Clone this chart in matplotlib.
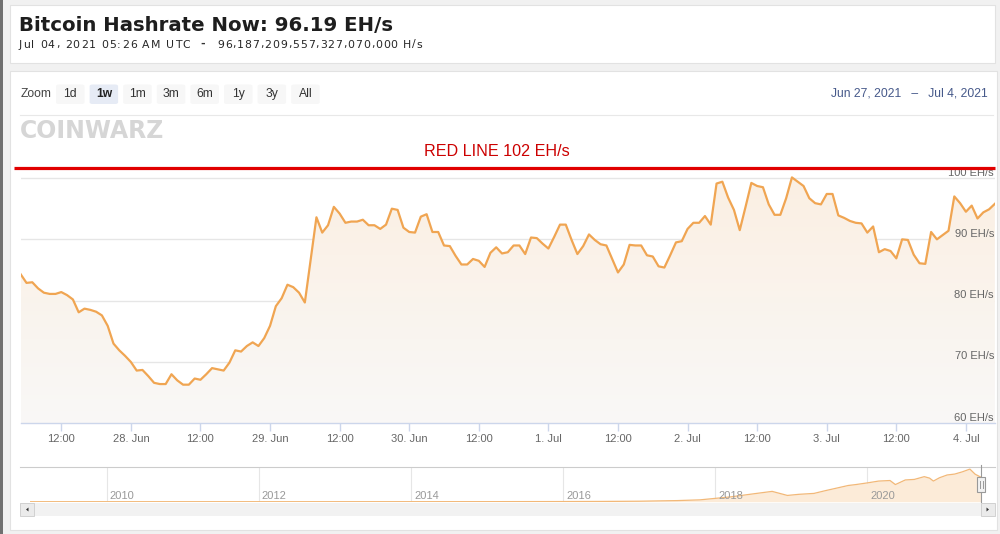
import numpy as np
import pandas as pd
import matplotlib
matplotlib.use("Agg")
import matplotlib.pyplot as plt
import matplotlib.dates as mdates
import matplotlib.transforms as mtransforms
from matplotlib.patches import Rectangle, FancyBboxPatch, Polygon
from matplotlib.font_manager import FontProperties, findfont
from matplotlib.ft2font import FT2Font

W, H = 1000, 534

# --- DATA ---
title = "Bitcoin Hashrate Now: 96.19 EH/s"
sub_left = "Jul 04, 2021 05:26 AM UTC"
sub_right = "96,187,209,557,327,070,000 H/s"
date_from, date_to = "Jun 27, 2021", "Jul 4, 2021"
zoom_buttons = ["1d", "1w", "1m", "3m", "6m", "1y", "3y", "All"]
selected_button = "1w"

# hourly hashrate (EH/s), Jun 27 05:00 -> Jul 4 05:00
start = "2021-06-27 05:00"
hashrate = [
    84.3, 82.9, 83.0, 82.0, 81.3, 81.1, 81.1, 81.4, 80.9, 80.2,
    78.1, 78.7, 78.5, 78.2, 77.6, 75.9, 73.0, 71.9, 71.0, 70.0,
    68.6, 68.7, 67.7, 66.6, 66.4, 66.4, 68.0, 67.0, 66.3, 66.3,
    67.3, 67.1, 68.0, 69.0, 68.8, 68.6, 69.9, 71.9, 71.7, 72.6,
    73.2, 72.6, 73.9, 75.9, 79.1, 80.4, 82.6, 82.2, 81.3, 79.7,
    86.6, 93.6, 91.1, 92.3, 95.3, 94.2, 92.7, 92.9, 92.9, 93.2,
    92.3, 92.3, 91.7, 92.4, 95.0, 94.8, 91.9, 91.2, 91.1, 93.7,
    94.1, 91.2, 91.2, 89.0, 88.9, 87.3, 85.9, 85.9, 86.8, 86.5,
    85.5, 87.8, 88.7, 87.7, 87.9, 89.0, 89.0, 87.6, 90.3, 90.2,
    89.3, 88.5, 90.4, 92.4, 92.4, 89.9, 87.6, 88.9, 90.8, 89.9,
    89.2, 89.0, 86.8, 84.6, 85.9, 89.1, 89.0, 89.0, 87.4, 87.2,
    85.6, 85.4, 87.4, 89.5, 89.7, 91.7, 92.7, 92.7, 93.8, 92.4,
    99.1, 99.4, 96.8, 94.8, 91.5, 95.3, 99.2, 98.7, 98.5, 95.7,
    94.0, 94.0, 96.7, 100.1, 99.4, 98.7, 96.7, 95.9, 95.7, 97.4,
    97.4, 93.9, 93.5, 93.0, 92.7, 92.6, 91.1, 92.1, 87.9, 88.4,
    88.1, 86.9, 90.0, 89.9, 87.5, 86.1, 86.0, 91.2, 90.0, 90.7,
    91.4, 97.0, 95.9, 94.5, 95.5, 93.4, 94.4, 94.9, 95.8,
]
y_ticks = [60, 70, 80, 90, 100]
red_line = 101.6
red_label = "RED LINE 102 EH/s"

# navigator: long-term hashrate (EH/s) by decimal year
nav_years = [2009.0, 2010.0, 2011.0, 2012.0, 2013.0, 2014.0, 2015.0, 2016.0,
             2016.5, 2017.0, 2017.5, 2017.8, 2018.0, 2018.2, 2018.4, 2018.6,
             2018.75, 2018.85, 2018.95, 2019.1, 2019.3, 2019.45, 2019.6,
             2019.75, 2019.85, 2020.0, 2020.15, 2020.3, 2020.37, 2020.5,
             2020.62, 2020.75, 2020.82, 2020.87, 2020.95, 2021.05, 2021.15,
             2021.25, 2021.35, 2021.42, 2021.5]
nav_hashrate = [0, 0, 0, 0, 0.01, 0.1, 0.3, 0.8,
                1.4, 2.6, 6, 10, 18, 26, 37, 48,
                56, 45, 34, 40, 45, 60, 74,
                88, 93, 102, 112, 115, 93, 118,
                121, 136, 128, 112, 130, 145, 150,
                162, 177, 149, 132]
nav_ticks = [2010, 2012, 2014, 2016, 2018, 2020]


def fx(x):
    return x / W


def fy(y):
    return 1 - y / H


def spaced_text(fig, x, y, s, width, size, color):
    # letter-spaced text: spread glyphs so the string spans `width` pixels
    fp = FontProperties(family="DejaVu Sans", size=size)
    font = FT2Font(findfont(fp))
    font.set_size(size, 100)
    adv = [font.load_char(ord(c)).linearHoriAdvance / 65536 for c in s]
    gap = (width - sum(adv)) / (len(s) - 1)
    cx = x
    for c, a in zip(s, adv):
        fig.text(fx(cx), fy(y), c, fontproperties=fp, color=color, va="baseline")
        cx += a + gap


times = pd.date_range(start, periods=len(hashrate), freq="h")
tnum = mdates.date2num(times.to_pydatetime())

fig = plt.figure(figsize=(W / 100, H / 100), dpi=100)
fig.patch.set_facecolor("#f1f1f1")

# page chrome: cards and left window edge
fig.add_artist(Rectangle((fx(10), fy(62.5)), fx(995) - fx(10), fy(5.5) - fy(62.5),
                         transform=fig.transFigure, facecolor="white",
                         edgecolor="#e2e2e2", lw=0.8, zorder=-2))
fig.add_artist(Rectangle((fx(10), fy(530)), fx(997) - fx(10), fy(71) - fy(530),
                         transform=fig.transFigure, facecolor="white",
                         edgecolor="#e2e2e2", lw=0.8, zorder=-2))
fig.add_artist(Rectangle((0, 0), fx(2.5), 1, transform=fig.transFigure,
                         facecolor="#707070", edgecolor="none", zorder=-1))

# header
fig.text(fx(19), fy(31), title, fontsize=14.2, fontweight="bold",
         family="DejaVu Sans", color="#1e1e1e", va="baseline")
spaced_text(fig, 19, 47.5, sub_left, 171, 7.8, "#262626")
fig.text(fx(202.5), fy(47), "-", fontsize=8, fontweight="bold", family="DejaVu Sans",
         color="#333333", va="baseline", ha="center")
spaced_text(fig, 217, 47.5, sub_right, 205, 7.8, "#262626")

# range selector
fig.text(fx(20.5), fy(94.5), "Zoom", fontsize=8.7, family="Liberation Sans",
         color="#444444", va="center")
for i, lab in enumerate(zoom_buttons):
    x0 = 56 + i * 33.6
    sel = lab == selected_button
    fig.add_artist(FancyBboxPatch((fx(x0), fy(104)), fx(28.5), fy(84.5) - fy(104),
                                  boxstyle="round,pad=0,rounding_size=0.003",
                                  transform=fig.transFigure,
                                  facecolor="#e6ebf5" if sel else "#f7f7f7",
                                  edgecolor="none"))
    fig.text(fx(x0 + 14.25), fy(94.5), lab, fontsize=8.7, family="Liberation Sans",
             color="#222222" if sel else "#333333",
             fontweight="bold" if sel else "normal", ha="center", va="center")
fig.text(fx(988), fy(93.5), f"{date_from}   \u2013   {date_to}", fontsize=8.7,
         family="Liberation Sans", color="#46598a", ha="right", va="center")
fig.add_artist(plt.Line2D([fx(20), fx(993)], [fy(115), fy(115)],
                          transform=fig.transFigure, color="#e8e8e8", lw=0.8))

# watermark logo
fig.text(fx(20), fy(131), "COINWARZ", fontsize=17, fontweight="heavy",
         family="DejaVu Sans", color="#d6d6d6", va="center")

# --- MAIN CHART ---
ax = fig.add_axes([fx(20.7), fy(423.3), fx(994.9) - fx(20.7), fy(162.7) - fy(423.3)])
ax.set_facecolor("none")
ax.set_xlim(tnum[0], tnum[-1])
ax.set_ylim(60, 102.5)

ax.set_yticks(y_ticks)
ax.yaxis.grid(True, color="#e6e6e6", lw=1.0, zorder=0)
ax.set_axisbelow(True)
ax.tick_params(axis="y", length=0, labelleft=False)
for s in ["top", "right", "left"]:
    ax.spines[s].set_visible(False)
ax.spines["bottom"].set_color("#ccd6eb")
ax.spines["bottom"].set_linewidth(1.0)

# gradient fill under the line
fill = ax.fill_between(tnum, hashrate, 60, color="none", lw=0)
top_c = np.array([251, 239, 226]) / 255
bot_c = np.array([249, 248, 247]) / 255
frac = np.linspace(0, 1, 256)[:, None]
grad = (bot_c[None, :] * (1 - frac) + top_c[None, :] * frac)[:, None, :]
im = ax.imshow(grad, extent=[tnum[0], tnum[-1], 60, 101], aspect="auto",
               origin="lower", zorder=1, interpolation="bilinear")
im.set_clip_path(fill.get_paths()[0], transform=ax.transData)

ax.plot(tnum, hashrate, color="#f0a552", lw=1.6, zorder=3, solid_joinstyle="round")

# right-hand y labels sitting on the grid lines
lab_tr = mtransforms.offset_copy(ax.get_yaxis_transform(), fig=fig, x=-1, y=2.5, units="dots")
for v in y_ticks:
    ax.text(1.0, v, f"{v} EH/s", transform=lab_tr, ha="right", va="baseline",
            fontsize=8, family="Liberation Sans", color="#666666", zorder=4)

# x axis
ax.xaxis.set_major_locator(mdates.HourLocator(byhour=[0, 12]))


def xfmt(val, pos):
    d = mdates.num2date(val)
    if d.hour == 0:
        return f"{d.day}. {d.strftime('%b')}"
    return d.strftime("%H:%M")


ax.xaxis.set_major_formatter(plt.FuncFormatter(xfmt))
ax.tick_params(axis="x", length=6, width=1, color="#ccd6eb", pad=2,
               labelsize=8, labelcolor="#666666")
for t in ax.get_xticklabels():
    t.set_family("Liberation Sans")

# red reference line
ax.plot([-0.0069, 1.0001], [red_line, red_line], transform=ax.get_yaxis_transform(),
        clip_on=False, color="#e10000", lw=2.3, zorder=6, solid_capstyle="butt")
fig.text(fx(497), fy(152), red_label, fontsize=11.6, family="Liberation Sans",
         color="#cc0000", ha="center", va="center")

# --- NAVIGATOR ---
nav = fig.add_axes([fx(20), fy(501.7), fx(995) - fx(20), fy(466.7) - fy(501.7)])
nav.set_facecolor("none")
nav.set_xlim(2008.86, 2021.68)
nav.set_ylim(0, 190)
for s in ["right", "left", "bottom"]:
    nav.spines[s].set_visible(False)
nav.spines["top"].set_color("#cccccc")
nav.set_xticks([])
nav.set_yticks([])
for yr in nav_ticks:
    nav.axvline(yr, color="#e6e6e6", lw=0.8, zorder=0)
    nav.text(yr + 0.04, 0.15, str(yr), transform=nav.get_xaxis_transform(),
             fontsize=8, family="Liberation Sans", color="#999999", va="center")
nav.fill_between(nav_years, nav_hashrate, 0, color="#fcebd8", lw=0, zorder=1)
nav.plot(nav_years, nav_hashrate, color="#f2b878", lw=0.9, zorder=2)
nav.axvline(nav_years[-1], color="#9a9a9a", lw=0.8, ymin=0, ymax=1.05, clip_on=False, zorder=3)
# handle at the selected range
hx = nav.transData.transform((nav_years[-1], 0))[0]
fig.add_artist(Rectangle((hx / W - fx(4), fy(492)), fx(8), fy(477) - fy(492),
                         transform=fig.transFigure, facecolor="#f2f2f2",
                         edgecolor="#999999", lw=0.8, zorder=5))
for dx in (-1.2, 1.2):
    fig.add_artist(plt.Line2D([hx / W + fx(dx)] * 2, [fy(481), fy(488)],
                              transform=fig.transFigure, color="#999999", lw=0.7, zorder=6))

# scrollbar
fig.add_artist(Rectangle((fx(20), fy(516)), fx(995) - fx(20), fy(503) - fy(516),
                         transform=fig.transFigure, facecolor="#f2f2f2",
                         edgecolor="none"))
for bx in (20, 981):
    fig.add_artist(Rectangle((fx(bx), fy(516)), fx(14), fy(503) - fy(516),
                             transform=fig.transFigure, facecolor="#ebebeb",
                             edgecolor="#cccccc", lw=0.6))
fig.add_artist(Polygon([(fx(28.5), fy(507.5)), (fx(28.5), fy(511.5)), (fx(26), fy(509.5))],
                       closed=True, transform=fig.transFigure, facecolor="#333333",
                       edgecolor="none"))
fig.add_artist(Polygon([(fx(986.5), fy(507.5)), (fx(986.5), fy(511.5)), (fx(989), fy(509.5))],
                       closed=True, transform=fig.transFigure, facecolor="#333333",
                       edgecolor="none"))

fig.savefig("out.png", dpi=100, facecolor=fig.get_facecolor())
